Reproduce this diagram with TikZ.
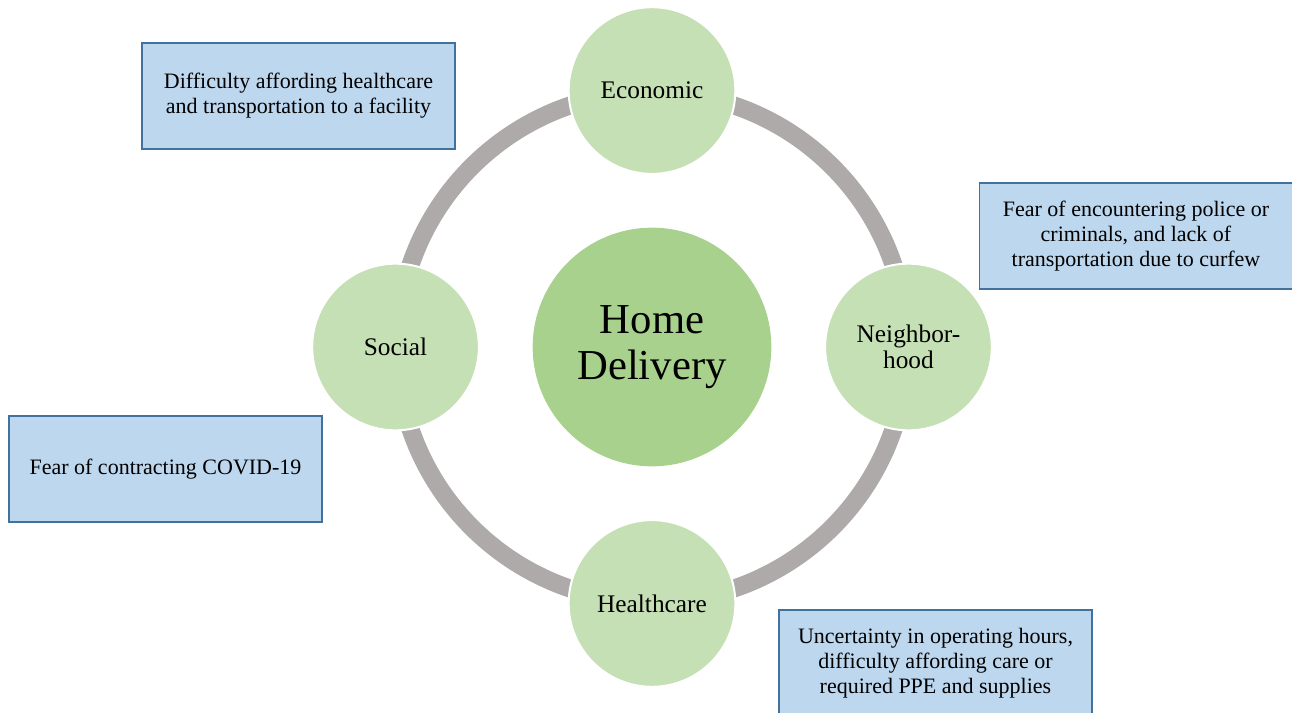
\documentclass[tikz,border=0pt]{standalone}
\usepackage{fontspec}
\setmainfont{Liberation Serif}
\usepackage{tikz}
\usetikzlibrary{positioning}
\usepackage{xcolor}
\definecolor{ringgray}{HTML}{AEAAAA}
\definecolor{leafgreen}{HTML}{C5E0B4}
\definecolor{hubgreen}{HTML}{A9D18E}
\definecolor{notefill}{HTML}{BDD7EE}
\definecolor{noteline}{HTML}{41719C}

\begin{document}
\begin{tikzpicture}[x=0.75pt, y=-0.75pt, node distance=39.4pt,
    factor/.style={circle, draw=white, line width=1.5pt, fill=leafgreen, minimum size=125pt, inner sep=0pt, align=center, font=\fontsize{19}{20}\selectfont},
    note/.style={draw=noteline, line width=1.1pt, fill=notefill, minimum width=234.75pt, minimum height=79.5pt, align=center, font=\fontsize{16.5}{18.75}\selectfont}]
    \clip (0,0) rectangle (1292,713);
    \coordinate (hub) at (652,347);
    \draw[ringgray, line width=13.5pt] (hub) circle[radius=191.25pt];

    \node[circle, fill=hubgreen, minimum size=179pt, inner sep=0pt, align=center, font=\fontsize{32}{34}\selectfont] (home) at (hub) {Home\\Delivery};
    \node[factor, above=of home] (economic) {Economic};
    \node[factor, right=of home] (neighborhood) {Neighbor-\\hood};
    \node[factor, below=of home] (healthcare) {Healthcare};
    \node[factor, left=of home] (social) {Social};

    \node[note] (economic-note) at (298.5,96) {Difficulty affording healthcare\\and transportation to a facility};
    \node[note] (neighborhood-note) at (1136,236) {Fear of encountering police or\\criminals, and lack of\\transportation due to curfew};
    \node[note] (social-note) at (165.5,469) {Fear of contracting COVID-19};
    \node[note] (healthcare-note) at (935.5,663) {Uncertainty in operating hours,\\difficulty affording care or\\required PPE and supplies};
\end{tikzpicture}
\end{document}
